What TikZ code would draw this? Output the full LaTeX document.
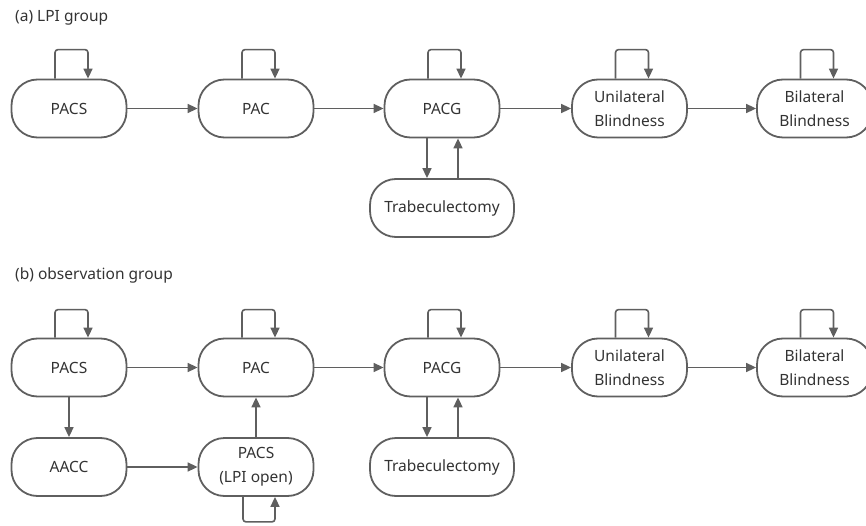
\documentclass[tikz,border=0pt]{standalone}
\usepackage{fontspec}
\setmainfont{Noto Sans}
\usetikzlibrary{arrows.meta}
\definecolor{ln}{HTML}{5F5F5F}
\definecolor{tx}{HTML}{333333}
\tikzset{
  stbox/.style={draw=ln, line width=1.8pt, rounded corners=26pt, minimum width=115pt, minimum height=58pt, align=center, text=tx, font=\fontsize{15.5}{24}\selectfont, inner sep=2pt},
  arr/.style={draw=ln, line width=1.6pt, -{Triangle[length=10pt,width=9pt]}},
  loop/.style={arr, rounded corners=3pt},
  lbl/.style={text=tx, font=\fontsize{15.5}{18}\selectfont, anchor=west, inner sep=0pt}
}
\begin{document}
\begin{tikzpicture}[x=1pt,y=-1pt]
\useasboundingbox (0,0) rectangle (866,526);
% (a)
\node[lbl] (la) at (15,18) {(a) LPI group};
\node[stbox] (a1) at (69,108.5) {PACS};
\node[stbox] (a2) at (256,108.5) {PAC};
\node[stbox] (a3) at (442,108.5) {PACG};
\node[stbox] (a4) at (629.5,108.5) {Unilateral\\Blindness};
\node[stbox] (a5) at (814.5,108.5) {Bilateral\\Blindness};
\node[stbox, minimum width=144pt] (a6) at (442,208) {Trabeculectomy};
\draw[arr] (a1) -- (a2);
\draw[arr] (a2) -- (a3);
\draw[arr] (a3) -- (a4);
\draw[arr] (a4) -- (a5);
\draw[arr] ([xshift=-15pt]a3.south) -- ([xshift=-15pt]a6.north);
\draw[arr] ([xshift=16pt]a6.north) -- ([xshift=16pt]a3.south);
\foreach \n in {a1,a2,a3,a4,a5}{
  \draw[loop] ([xshift=-14pt]\n.north) -- ++(0,-29) -| ([xshift=19pt]\n.north);
}
% (b)
\node[lbl] (lb) at (15,275) {(b) observation group};
\node[stbox] (b1) at (69,367.5) {PACS};
\node[stbox] (b2) at (256,367.5) {PAC};
\node[stbox] (b3) at (442,367.5) {PACG};
\node[stbox] (b4) at (629.5,367.5) {Unilateral\\Blindness};
\node[stbox] (b5) at (814.5,367.5) {Bilateral\\Blindness};
\node[stbox] (b6) at (69,467) {AACC};
\node[stbox] (b7) at (256,467) {PACS\\(LPI open)};
\node[stbox, minimum width=144pt] (b8) at (442,467) {Trabeculectomy};
\draw[arr] (b1) -- (b2);
\draw[arr] (b2) -- (b3);
\draw[arr] (b3) -- (b4);
\draw[arr] (b4) -- (b5);
\draw[arr] (b1) -- (b6);
\draw[arr] (b6) -- (b7);
\draw[arr] (b7) -- (b2);
\draw[arr] ([xshift=-15pt]b3.south) -- ([xshift=-15pt]b8.north);
\draw[arr] ([xshift=16pt]b8.north) -- ([xshift=16pt]b3.south);
\foreach \n in {b1,b2,b3,b4,b5}{
  \draw[loop] ([xshift=-14pt]\n.north) -- ++(0,-28) -| ([xshift=19pt]\n.north);
}
\draw[loop] ([xshift=-13pt]b7.south) -- ++(0,25) -| ([xshift=19pt]b7.south);
\end{tikzpicture}
\end{document}
